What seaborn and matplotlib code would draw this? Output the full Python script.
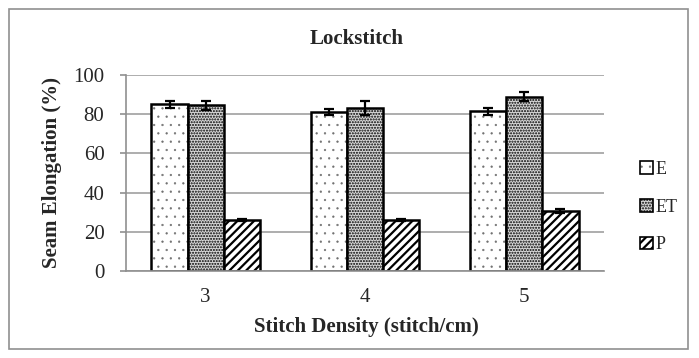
import matplotlib
matplotlib.use("Agg")
import matplotlib.pyplot as plt
import seaborn as sns
import pandas as pd
from matplotlib.patches import Rectangle, Patch
from matplotlib.colors import to_rgba

densities = ["3", "4", "5"]
series = ["E", "ET", "P"]
e_vals = [85.0, 81.0, 81.5]
et_vals = [84.5, 83.0, 89.0]
p_vals = [26.0, 26.0, 30.5]
e_err = [1.8, 1.5, 1.8]
et_err = [2.2, 3.5, 2.5]
p_err = [0.5, 0.7, 1.0]
yticks = [0, 20, 40, 60, 80, 100]

sns.set_theme(style="white")
plt.rcParams["font.family"] = ["Liberation Serif", "DejaVu Serif"]
plt.rcParams["hatch.linewidth"] = 1.0

vals = {"E": e_vals, "ET": et_vals, "P": p_vals}
errs = {"E": e_err, "ET": et_err, "P": p_err}
rows = []
for s in series:
    for d, v in zip(densities, vals[s]):
        rows.append({"density": d, "type": s, "value": v})
df = pd.DataFrame(rows)

fig = plt.figure(figsize=(6.99, 3.58), dpi=100)
ax = fig.add_axes([126 / 699, 1 - 271 / 358, 478 / 699, 196 / 358])

sns.barplot(data=df, x="density", y="value", hue="type", order=densities,
            hue_order=series, palette=["white"] * 3, edgecolor="black",
            linewidth=1.8, width=0.68, errorbar=None, legend=False, ax=ax)

hatches = ["..", "......", "////"]
faces = ["white", "#d8d8d8", "white"]
hcols = ["#707070", "black", "black"]
hlws = [0.4, 1.0, 1.6]


def style_patch(patch, h, fc, hc, hlw):
    patch.set_hatch(h)
    patch.set_facecolor(fc)
    patch._hatch_color = to_rgba(hc)
    if hasattr(patch, "set_hatch_linewidth"):
        patch.set_hatch_linewidth(hlw)


for cont, s, h, fc, hc, hlw in zip(ax.containers, series, hatches, faces, hcols, hlws):
    for patch, err in zip(cont.patches, errs[s]):
        style_patch(patch, h, fc, hc, hlw)
        x = patch.get_x() + patch.get_width() / 2
        ax.errorbar(x, patch.get_height(), yerr=err, color="black",
                    capsize=3.5, elinewidth=1.6, capthick=1.6, zorder=5)

ax.set_ylim(0, 100)
ax.set_yticks(yticks)
ax.set_xlim(-0.5, 2.5)
ax.yaxis.grid(True, color="#a0a0a0", linewidth=1.2)
ax.set_axisbelow(True)
for sp in ["top", "right"]:
    ax.spines[sp].set_visible(False)
for sp in ["left", "bottom"]:
    ax.spines[sp].set_color("#909090")
    ax.spines[sp].set_linewidth(1.2)
ax.tick_params(axis="y", labelsize=15, length=4.5, width=1.2, color="#909090",
               direction="out", left=True, pad=11)
ax.tick_params(axis="x", labelsize=15, length=0, pad=12)
ax.set_xlabel("Stitch Density (stitch/cm)", fontsize=15, fontweight="bold")
ax.set_ylabel("Seam Elongation (%)", fontsize=15, fontweight="bold")
ax.xaxis.set_label_coords(366 / 699, 1 - 327 / 358, transform=fig.transFigure)
ax.xaxis.label.set_va("center")
ax.yaxis.set_label_coords(52 / 699, 1 - 173 / 358, transform=fig.transFigure)
ax.yaxis.label.set_va("center")
fig.text(357 / 699, 1 - 39 / 358, "Lockstitch", fontsize=15, fontweight="bold",
         ha="center", va="center")

handles = []
for h, fc, hc, hlw in zip(hatches, faces, hcols, hlws):
    p = Patch(facecolor=fc, edgecolor="black", hatch=h, linewidth=1.2)
    style_patch(p, h, fc, hc, hlw)
    handles.append(p)
leg = fig.legend(handles, series, loc="center left",
                 bbox_to_anchor=(624 / 699, 1 - 207 / 358),
                 frameon=False, fontsize=13, handlelength=0.7, handleheight=0.7,
                 handletextpad=0.15, labelspacing=1.15)
for lp, h, fc, hc, hlw in zip(leg.get_patches(), hatches, faces, hcols, hlws):
    style_patch(lp, h, fc, hc, hlw)

fig.patches.append(Rectangle((9 / 699, 9 / 358), 679 / 699, 340 / 358,
                             transform=fig.transFigure, fill=False,
                             edgecolor="#909090", linewidth=1.2))

fig.savefig("out.png", dpi=100)
